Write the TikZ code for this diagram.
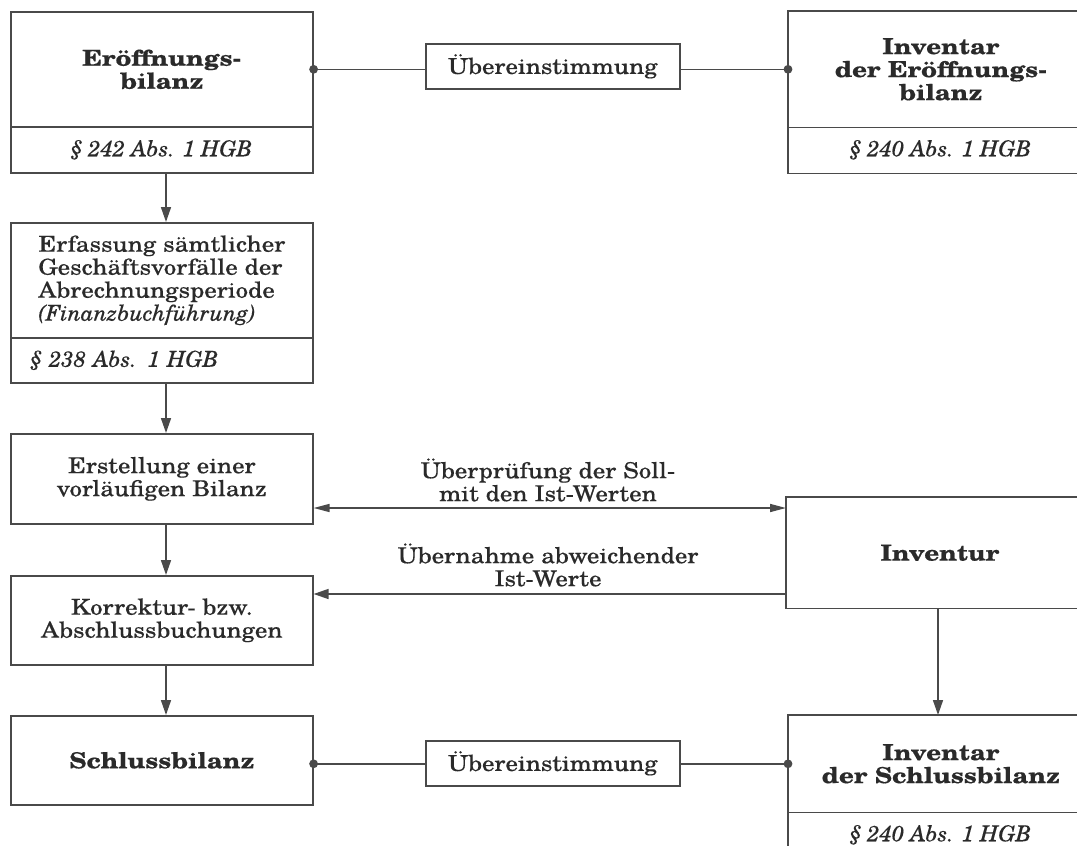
\documentclass[tikz,border=0pt]{standalone}
\usepackage{fontspec}
\setmainfont{TeX Gyre Schola}[
  UprightFeatures={FakeStretch=1.13, FakeBold=0.3},
  BoldFeatures={FakeStretch=1.18, FakeBold=0.5},
  ItalicFeatures={FakeBold=0.3}]
\usetikzlibrary{arrows.meta,calc}
\definecolor{ink}{HTML}{2A2A2A}
\definecolor{rule}{HTML}{4A4A4A}
\begin{document}
\begin{tikzpicture}[x=0.5pt,y=-0.5pt,
  font=\fontsize{11}{11.5}\selectfont,
  box/.style={draw=rule, line width=0.8pt, inner sep=0pt, anchor=north west,
              align=center, text=ink},
  lbox/.style={box, align=left},
  sub/.style={box, font=\fontsize{11}{11.5}\selectfont\itshape},
  head/.style={box, font=\fontsize{11}{11.5}\selectfont\bfseries},
  open/.style={draw=none},
  edge/.style={draw=rule, line width=0.8pt},
  flow/.style={draw=rule, line width=0.8pt, -{Triangle[length=7.5pt,width=5pt]}},
  both/.style={draw=rule, line width=0.8pt,
               {Triangle[length=8pt,width=4pt]}-{Triangle[length=8pt,width=4pt]}},
  link/.style={draw=rule, line width=0.8pt},
  dot/.style={fill=rule},
  lbl/.style={align=center, text=ink}
]
\useasboundingbox (0,0) rectangle (1077,846);
\fill[white] (0,0) rectangle (1077,846);
\clip (0,0) rectangle (1077,846);

% left column
\node[head, minimum width=151pt, minimum height=57.5pt]
  (e1) at (10,11) {Eröffnungs-\\bilanz};
\node[sub, minimum width=151pt, minimum height=23pt]
  (e1s) at (10,126) {§ 242 Abs. 1 HGB};
\node[lbox, minimum width=151pt, minimum height=57.5pt]
  (f) at (10,222) {Erfassung sämtlicher\\Geschäftsvorfälle der\\Abrechnungsperiode\\\textit{(Finanzbuchführung)}};
\node[sub, align=left, inner xsep=10pt, text width=131pt, minimum width=151pt, minimum height=22.5pt]
  (fs) at (10,337) {§ 238 Abs. 1 HGB};
\node[box, minimum width=151pt, minimum height=45pt]
  (v) at (10,433) {Erstellung einer\\vorläufigen Bilanz};
\node[box, minimum width=151pt, minimum height=44.5pt]
  (k) at (10,575) {Korrektur- bzw.\\Abschlussbuchungen};
\node[head, minimum width=151pt, minimum height=44.5pt]
  (s) at (10,715) {Schlussbilanz};

% middle
\node[box, minimum width=127pt, minimum height=22.5pt] (u1) at (425,43) {Übereinstimmung};
\node[box, minimum width=127pt, minimum height=22.5pt] (u2) at (425,740) {Übereinstimmung};

% right column: boxes run on past the right margin
\node[head, open, minimum width=152pt, minimum height=57.5pt]
  (i1) at (788,11) {Inventar\\der Eröffnungs-\\bilanz};
\node[sub, open, minimum width=152pt, minimum height=23pt]
  (i1s) at (788,126) {§ 240 Abs. 1 HGB};
\node[head, open, minimum width=153pt, minimum height=55pt]
  (inv) at (786,497) {Inventur};
\node[head, open, minimum width=152pt, minimum height=48pt]
  (i2) at (788,715) {Inventar\\der Schlussbilanz};
\node[sub, open, minimum width=152pt, minimum height=23pt]
  (i2s) at (788,811) {§ 240 Abs. 1 HGB};
\draw[edge] (i1.north east) -- (i1.north west) -- (i1s.south west) -- (i1s.south east);
\draw[edge] (i1.south west) -- (i1.south east);
\draw[edge] (inv.north east) -- (inv.north west) -- (inv.south west) -- (inv.south east);
\draw[edge] (i2.north east) -- (i2.north west) -- (i2s.south west);
\draw[edge] (i2.south west) -- (i2.south east);

% helper positions
\coordinate (ax) at (166,0);
\coordinate (ay) at (0,508);
\coordinate (by) at (0,594);
\coordinate (ix) at (938,0);

% main flow
\draw[flow] (e1s.south -| ax) -- (f.north -| ax);
\draw[flow] (fs.south -| ax) -- (v.north -| ax);
\draw[flow] (v.south -| ax) -- (k.north -| ax);
\draw[flow] (k.south -| ax) -- (s.north -| ax);
\draw[flow] (inv.south -| ix) -- (i2.north -| ix);

% agreement links
\draw[link] (e1.east) -- (e1.east -| u1.west);
\draw[link] (u1.east |- i1.west) -- (i1.west);
\fill[dot] (e1.east) circle (2.2pt);
\fill[dot] (i1.west) circle (2.2pt);
\draw[link] (i2.west -| s.east) -- (i2.west -| u2.west);
\draw[link] (u2.east |- i2.west) -- (i2.west);
\fill[dot] (i2.west -| s.east) circle (2.2pt);
\fill[dot] (i2.west) circle (2.2pt);

% inventory comparison
\draw[both] (v.east |- ay) -- (inv.west |- ay);
\draw[flow] (inv.west |- by) -- (k.east |- by);
\node[lbl] (t1) at (548,480) {Überprüfung der Soll-\\mit den Ist-Werten};
\node[lbl] (t2) at (548,565) {Übernahme abweichender\\Ist-Werte};
\end{tikzpicture}
\end{document}
